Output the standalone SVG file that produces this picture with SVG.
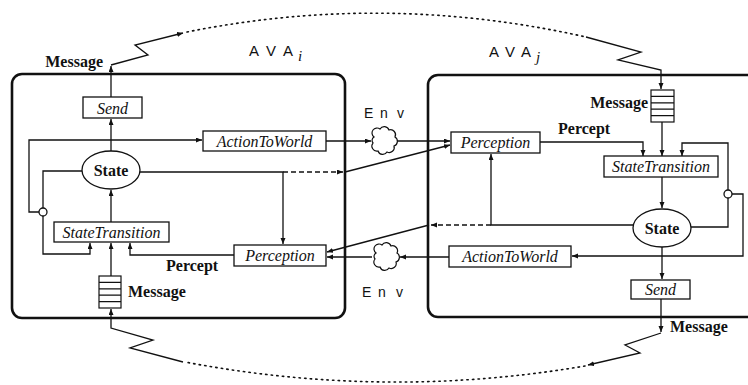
<svg xmlns="http://www.w3.org/2000/svg" width="748" height="385" viewBox="0 0 748 385">
  <style>
    .agent { fill: none; stroke: #111; stroke-width: 2.6; }
    .box { fill: #fff; stroke: #111; stroke-width: 1.3; }
    .queue { fill: #fff; stroke: #111; stroke-width: 1.2; }
    .wire { fill: none; stroke: #111; stroke-width: 1.3; }
    .dash { fill: none; stroke: #111; stroke-width: 1.3; stroke-dasharray: 5 3; }
    .dots { fill: none; stroke: #111; stroke-width: 1.6; stroke-dasharray: 1.4 4.2; stroke-linecap: round; }
    .fn { font-family: "Liberation Serif", "Times New Roman", serif; font-style: italic; font-size: 16px; fill: #111; }
    .lbl { font-family: "Liberation Serif", "Times New Roman", serif; font-weight: bold; font-size: 16px; fill: #111; }
    .sans { font-family: "Liberation Sans", Arial, sans-serif; font-size: 14px; fill: #111; }
    .ava { font-family: "Liberation Sans", Arial, sans-serif; font-size: 15px; fill: #111; }
    .sub { font-family: "Liberation Serif", "Times New Roman", serif; font-style: italic; font-size: 15px; fill: #111; }
    .cloud { fill: #fff; stroke: #111; stroke-width: 1.2; }
  </style>
  <defs>
    <marker id="arr" markerUnits="userSpaceOnUse" markerWidth="7" markerHeight="6" refX="6" refY="2.5" orient="auto">
      <path d="M0,0 L6,2.5 L0,5 z" fill="#111"/>
    </marker>
    <!-- bumpy cloud for the environment, centred on the origin -->
    <path id="cloudShape" d="M-10,-4 a5,5 0 0 1 6,-8 a5,5 0 0 1 9,1 a5,5 0 0 1 6,7 a5,5 0 0 1 -1,9 a5,5 0 0 1 -7,6 a5,5 0 0 1 -9,-1 a5,5 0 0 1 -5,-8 a4,4 0 0 1 1,-6 z"/>
  </defs>
  <rect width="748" height="385" fill="#fff"/>

  <!-- agent frames -->
  <g id="ava-i">
    <rect class="agent" x="12" y="74" width="333" height="244" rx="10"/>
    <text class="ava"><tspan x="249" y="56">A</tspan><tspan x="266" y="56">V</tspan><tspan x="283" y="56">A</tspan></text>
    <text class="sub" x="298" y="61">i</text>
  </g>
  <g id="ava-j">
    <rect class="agent" x="428" y="75" width="345" height="242" rx="10"/>
    <text class="ava"><tspan x="489" y="57">A</tspan><tspan x="505" y="57">V</tspan><tspan x="521" y="57">A</tspan></text>
    <text class="sub" x="536" y="62">j</text>
  </g>

  <!-- connectors -->
  <g id="connectors">
    <!-- AVA i -->
    <path class="wire" d="M111,97 V66" marker-end="url(#arr)"/>
    <path class="wire" d="M111,65 L148,55 L135,45 L183,33" marker-end="url(#arr)"/>
    <path class="wire" d="M111,151 V119" marker-end="url(#arr)"/>
    <path class="wire" d="M82,171 H43 V254 H90 V243" marker-end="url(#arr)"/>
    <path class="wire" d="M39,212 H29 V140 H202" marker-end="url(#arr)"/>
    <path class="wire" d="M111,222 V190" marker-end="url(#arr)"/>
    <path class="wire" d="M111,276 V243" marker-end="url(#arr)"/>
    <path class="wire" d="M234,255 H130 V243" marker-end="url(#arr)"/>
    <path class="wire" d="M140,172 H283 V244" marker-end="url(#arr)"/>
    <path class="dash" d="M283,172 H343" marker-end="url(#arr)"/>
    <path class="wire" d="M345,172 L450,145" marker-end="url(#arr)"/>
    <path class="wire" d="M326,141 H371" marker-end="url(#arr)"/>
    <path class="wire" d="M397,141 H450" marker-end="url(#arr)"/>

    <!-- AVA j -->
    <path class="wire" d="M586,37 L641,52 L618,60 L661,70 V89" marker-end="url(#arr)"/>
    <path class="wire" d="M662,122 V156" marker-end="url(#arr)"/>
    <path class="wire" d="M540,142 H643 V156" marker-end="url(#arr)"/>
    <path class="wire" d="M691,227 H728 V143 H682 V156" marker-end="url(#arr)"/>
    <path class="wire" d="M732,194 H743 V256 H572" marker-end="url(#arr)"/>
    <path class="wire" d="M662,177 V208" marker-end="url(#arr)"/>
    <path class="wire" d="M662,247 V279" marker-end="url(#arr)"/>
    <path class="wire" d="M633,225 H491 V154" marker-end="url(#arr)"/>
    <path class="dash" d="M491,225 H431" marker-end="url(#arr)"/>
    <path class="wire" d="M429,225 L327,252" marker-end="url(#arr)"/>
    <path class="wire" d="M449,257 H400" marker-end="url(#arr)"/>
    <path class="wire" d="M372,257 H327" marker-end="url(#arr)"/>

    <!-- message channel j -> i -->
    <path class="wire" d="M661,299 V332" marker-end="url(#arr)"/>
    <path class="wire" d="M661,333 L625,345 L640,353 L588,365" marker-end="url(#arr)"/>
    <path class="wire" d="M183,362 L130,348 L153,340 L111,328 V309" marker-end="url(#arr)"/>

    <!-- dotted long-range links -->
    <path class="dots" d="M187,32 Q386,-8 586,37"/>
    <path class="dots" d="M585,366 Q385,400 185,362"/>

    <!-- junction circles -->
    <circle cx="43" cy="212" r="4" fill="#fff" stroke="#111" stroke-width="1.3"/>
    <circle cx="728" cy="194" r="4" fill="#fff" stroke="#111" stroke-width="1.3"/>
  </g>

  <!-- environment -->
  <g id="env-top">
    <use href="#cloudShape" class="cloud" x="384" y="141"/>
    <text class="sans"><tspan x="364" y="118">E</tspan><tspan x="380" y="118">n</tspan><tspan x="397" y="118">v</tspan></text>
  </g>
  <g id="env-bottom">
    <use href="#cloudShape" class="cloud" x="386" y="257"/>
    <text class="sans"><tspan x="362" y="297">E</tspan><tspan x="378" y="297">n</tspan><tspan x="396" y="297">v</tspan></text>
  </g>

  <!-- AVA i nodes -->
  <g id="send-i">
    <rect class="box" x="83" y="97" width="59" height="21"/>
    <text class="fn" x="112.5" y="113.5" text-anchor="middle">Send</text>
  </g>
  <g id="act-i">
    <rect class="box" x="203" y="131" width="123" height="20"/>
    <text class="fn" x="264.5" y="147" text-anchor="middle">ActionToWorld</text>
  </g>
  <g id="state-i">
    <ellipse cx="111" cy="170" rx="29" ry="19" fill="#fff" stroke="#111" stroke-width="1.3"/>
    <text class="lbl" x="111" y="175.5" text-anchor="middle">State</text>
  </g>
  <g id="trans-i">
    <rect class="box" x="54" y="222" width="115" height="20"/>
    <text class="fn" x="111.5" y="238" text-anchor="middle">StateTransition</text>
  </g>
  <g id="perc-i">
    <rect class="box" x="234" y="245" width="92" height="21"/>
    <text class="fn" x="280" y="261" text-anchor="middle">Perception</text>
  </g>
  <g id="queue-i">
    <rect class="queue" x="99" y="276" width="22" height="32"/>
    <path class="wire" d="M99,282.4 H121 M99,288.8 H121 M99,295.2 H121 M99,301.6 H121"/>
  </g>
  <g id="labels-i">
    <text class="lbl" x="103" y="67" text-anchor="end">Message</text>
    <text class="lbl" x="166" y="271">Percept</text>
    <text class="lbl" x="128" y="297">Message</text>
  </g>

  <!-- AVA j nodes -->
  <g id="perc-j">
    <rect class="box" x="451" y="132" width="89" height="21"/>
    <text class="fn" x="495.5" y="148" text-anchor="middle">Perception</text>
  </g>
  <g id="trans-j">
    <rect class="box" x="604" y="156" width="114" height="21"/>
    <text class="fn" x="661" y="172" text-anchor="middle">StateTransition</text>
  </g>
  <g id="state-j">
    <ellipse cx="662" cy="228" rx="29" ry="19" fill="#fff" stroke="#111" stroke-width="1.3"/>
    <text class="lbl" x="662" y="233.5" text-anchor="middle">State</text>
  </g>
  <g id="act-j">
    <rect class="box" x="449" y="246" width="122" height="21"/>
    <text class="fn" x="510" y="262" text-anchor="middle">ActionToWorld</text>
  </g>
  <g id="send-j">
    <rect class="box" x="631" y="280" width="59" height="19"/>
    <text class="fn" x="660.5" y="295" text-anchor="middle">Send</text>
  </g>
  <g id="queue-j">
    <rect class="queue" x="651" y="90" width="23" height="32"/>
    <path class="wire" d="M651,96.4 H674 M651,102.8 H674 M651,109.2 H674 M651,115.6 H674"/>
  </g>
  <g id="labels-j">
    <text class="lbl" x="648" y="108" text-anchor="end">Message</text>
    <text class="lbl" x="558" y="134">Percept</text>
    <text class="lbl" x="670" y="332">Message</text>
  </g>
</svg>
